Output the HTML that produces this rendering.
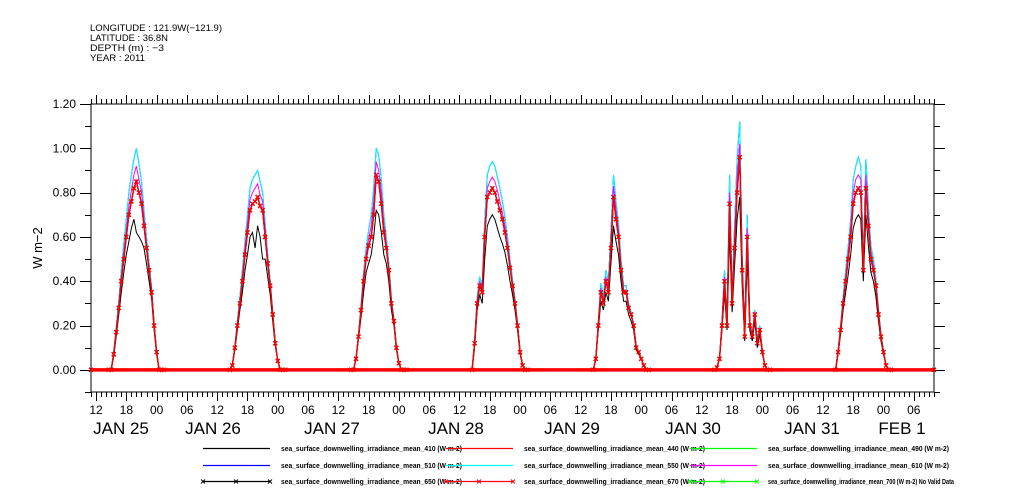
<!DOCTYPE html>
<html><head><meta charset="utf-8"><style>
html,body{margin:0;padding:0;background:#fff;}
svg{display:block;font-family:"Liberation Sans",sans-serif;}
</style></head><body>
<svg id="chart" width="1009" height="504" viewBox="0 0 1009 504" xmlns="http://www.w3.org/2000/svg">
<g font-size="9.5" fill="#000">
<text x="90" y="31" textLength="132" lengthAdjust="spacingAndGlyphs">LONGITUDE : 121.9W(−121.9)</text>
<text x="90" y="41" textLength="78" lengthAdjust="spacingAndGlyphs">LATITUDE : 36.8N</text>
<text x="90" y="51" textLength="74" lengthAdjust="spacingAndGlyphs">DEPTH (m) : −3</text>
<text x="90" y="61" textLength="55" lengthAdjust="spacingAndGlyphs">YEAR : 2011</text>
</g>
<g id="axes"></g>
<g id="plot"></g>
<g id="legend"></g>
</svg>
<script>
// ---- data (half-hourly, 14:30 to 01:30 UTC each day, Jan 25..Jan 31) ----
const dayLabels = ["JAN 25","JAN 26","JAN 27","JAN 28","JAN 29","JAN 30","JAN 31","FEB 1"];
const hourLabels = ["12","18","00","06"];
const yTicks = [0.00,0.20,0.40,0.60,0.80,1.00,1.20];
const red670 = [
[0,0,0.07,0.17,0.28,0.4,0.5,0.6,0.7,0.76,0.82,0.85,0.8,0.75,0.65,0.55,0.45,0.35,0.2,0.08,0,0,0],
[0,0.02,0.1,0.2,0.3,0.4,0.52,0.62,0.72,0.75,0.76,0.78,0.74,0.72,0.6,0.48,0.38,0.25,0.12,0.04,0,0,0],
[0,0,0.05,0.15,0.27,0.4,0.5,0.56,0.6,0.7,0.88,0.85,0.75,0.62,0.55,0.45,0.3,0.22,0.1,0.03,0,0,0],
[0,0.12,0.3,0.38,0.35,0.6,0.78,0.8,0.82,0.8,0.76,0.72,0.68,0.62,0.55,0.46,0.38,0.3,0.2,0.08,0.02,0,0],
[0,0.05,0.2,0.35,0.3,0.4,0.35,0.55,0.78,0.68,0.6,0.45,0.35,0.35,0.28,0.25,0.2,0.1,0.08,0.05,0.02,0,0],
[0,0.01,0.05,0.2,0.4,0.2,0.75,0.3,0.55,0.8,0.96,0.45,0.15,0.6,0.2,0.15,0.25,0.12,0.18,0.08,0.02,0,0],
[0,0.08,0.18,0.3,0.4,0.5,0.6,0.75,0.8,0.82,0.8,0.45,0.82,0.65,0.5,0.45,0.38,0.25,0.15,0.08,0.02,0,0]];
const cyan550 = [
[0,0,0.08,0.19,0.31,0.45,0.57,0.68,0.8,0.88,0.95,1.0,0.93,0.85,0.72,0.6,0.48,0.37,0.21,0.08,0,0,0],
[0,0.02,0.11,0.22,0.33,0.45,0.58,0.7,0.82,0.86,0.88,0.9,0.85,0.8,0.66,0.52,0.4,0.26,0.13,0.04,0,0,0],
[0,0,0.05,0.16,0.29,0.44,0.55,0.63,0.7,0.82,1.0,0.97,0.86,0.7,0.6,0.48,0.32,0.23,0.1,0.03,0,0,0],
[0,0.13,0.33,0.42,0.38,0.67,0.88,0.92,0.94,0.92,0.87,0.82,0.76,0.69,0.6,0.5,0.41,0.32,0.21,0.08,0.02,0,0],
[0,0.05,0.22,0.39,0.33,0.45,0.4,0.62,0.88,0.76,0.66,0.5,0.38,0.38,0.3,0.26,0.21,0.11,0.08,0.05,0.02,0,0],
[0,0.01,0.05,0.22,0.45,0.22,0.88,0.34,0.65,0.95,1.12,0.5,0.17,0.7,0.22,0.16,0.27,0.13,0.2,0.08,0.02,0,0],
[0,0.09,0.2,0.33,0.45,0.56,0.68,0.86,0.92,0.96,0.92,0.5,0.95,0.74,0.56,0.5,0.41,0.27,0.16,0.08,0.02,0,0]];
const black410 = [
[0,0,0.06,0.15,0.25,0.35,0.44,0.52,0.58,0.64,0.68,0.62,0.6,0.58,0.55,0.48,0.4,0.32,0.18,0.07,0,0,0],
[0,0.02,0.09,0.18,0.27,0.35,0.45,0.52,0.6,0.62,0.55,0.65,0.6,0.5,0.5,0.42,0.34,0.22,0.11,0.04,0,0,0],
[0,0,0.05,0.14,0.24,0.35,0.44,0.48,0.52,0.6,0.72,0.7,0.62,0.52,0.48,0.4,0.27,0.2,0.09,0.03,0,0,0],
[0,0.1,0.27,0.34,0.3,0.5,0.65,0.68,0.7,0.68,0.64,0.6,0.57,0.53,0.47,0.4,0.34,0.27,0.18,0.07,0.02,0,0],
[0,0.05,0.18,0.31,0.27,0.35,0.31,0.48,0.65,0.58,0.52,0.4,0.31,0.31,0.25,0.22,0.18,0.09,0.07,0.05,0.02,0,0],
[0,0.01,0.05,0.18,0.35,0.18,0.62,0.26,0.47,0.68,0.78,0.38,0.13,0.5,0.18,0.13,0.22,0.1,0.16,0.07,0.02,0,0],
[0,0.07,0.16,0.27,0.35,0.43,0.52,0.64,0.68,0.7,0.68,0.4,0.7,0.56,0.44,0.4,0.33,0.22,0.13,0.07,0.02,0,0]];
const magenta610 = [
[0,0,0.07,0.18,0.29,0.42,0.53,0.63,0.74,0.81,0.88,0.92,0.86,0.8,0.68,0.57,0.46,0.36,0.2,0.08,0,0,0],
[0,0.02,0.1,0.21,0.31,0.42,0.55,0.66,0.77,0.8,0.82,0.84,0.79,0.76,0.63,0.5,0.39,0.25,0.12,0.04,0,0,0],
[0,0,0.05,0.15,0.28,0.42,0.52,0.59,0.65,0.76,0.94,0.9,0.8,0.66,0.57,0.46,0.31,0.22,0.1,0.03,0,0,0],
[0,0.12,0.31,0.4,0.36,0.63,0.82,0.85,0.87,0.85,0.81,0.76,0.71,0.65,0.57,0.48,0.39,0.31,0.2,0.08,0.02,0,0],
[0,0.05,0.21,0.37,0.31,0.42,0.37,0.58,0.83,0.72,0.63,0.47,0.36,0.36,0.29,0.25,0.2,0.1,0.08,0.05,0.02,0,0],
[0,0.01,0.05,0.21,0.42,0.21,0.8,0.32,0.6,0.87,1.02,0.47,0.16,0.64,0.21,0.15,0.26,0.12,0.19,0.08,0.02,0,0],
[0,0.08,0.19,0.31,0.42,0.53,0.64,0.8,0.86,0.88,0.86,0.47,0.88,0.69,0.53,0.47,0.39,0.26,0.15,0.08,0.02,0,0]];

// ---- axis geometry ----
const X0=91, X1=934, Y0=104, Y1=392;
const H_MAX=167;            // hours from Jan 25 11:00 to Feb 1 10:00
const V_MIN=-0.1, V_MAX=1.2;
function xs(h){return X0+(h/H_MAX)*(X1-X0);}
function ys(v){return Y1-(v-V_MIN)/(V_MAX-V_MIN)*(Y1-Y0);}
const NS="http://www.w3.org/2000/svg";
function mk(tag,attrs,parent){const e=document.createElementNS(NS,tag);for(const k in attrs)e.setAttribute(k,attrs[k]);parent.appendChild(e);return e;}

const axes=document.getElementById('axes');
const frame=mk('rect',{x:X0,y:Y0,width:X1-X0,height:Y1-Y0,fill:'none',stroke:'#000','stroke-width':1},axes);


for(let h=0;h<=H_MAX;h++){
  const x=Math.round(xs(h))+0.5; const hr=(h+11)%24; const major=hr%6===0;
  const tb=mk('line',{x1:x,x2:x,y1:Y1,y2:Y1+(major?9:5),stroke:'#000'},axes);
  
  
  const tt=mk('line',{x1:x,x2:x,y1:Y0,y2:Y0-(major?9:5),stroke:'#000'},axes);
  
  
  if(major){
    const t=mk('text',{x:xs(h),y:414,'font-size':12,'text-anchor':'middle'},axes);
    t.textContent=hourLabels[(hr/6+2)%4];
    
    
  }
}
const dayPos=[121,213,332,456,572,693,812,902];
dayLabels.forEach((d,i)=>{
  const t=mk('text',{x:dayPos[i],y:434,'font-size':17,'text-anchor':'middle'},axes);
  t.textContent=d;
  
  
});
for(let k=-1;k<=12;k++){
  const v=k/10; const y=Math.round(ys(v))+0.5; const major=k>=0&&k%2===0;
  const l=mk('line',{x1:X0-(major?11:6),x2:X0,y1:y,y2:y,stroke:'#000'},axes);
  
  
  const r=mk('line',{x1:X1,x2:X1+(major?11:6),y1:y,y2:y,stroke:'#000'},axes);
  
  
}
yTicks.forEach(v=>{
  const t=mk('text',{x:76,y:ys(v)+4,'font-size':12,'text-anchor':'end'},axes);
  t.textContent=v.toFixed(2);
  
  
});
const yt=mk('text',{x:42,y:248,'font-size':13,'text-anchor':'middle',transform:'rotate(-90 42 248)'},axes);
yt.textContent='W m−2';



function pts(arr){
  const p=[[0,0]];
  arr.forEach((day,d)=>day.forEach((v,i)=>p.push([-11+24*d+14.5+0.5*i,v])));
  p.push([H_MAX,0]);
  return p;
}
const plot=document.getElementById('plot');
const series=[
 {name:'series-410',data:black410,color:'#000',mark:false},
 {name:'series-510',data:cyan550,color:'#0000ff',mark:false},
 {name:'series-550',data:cyan550,color:'#00ffff',mark:false},
 {name:'series-610',data:magenta610,color:'#ff00ff',mark:false},
 {name:'series-490',data:red670,color:'#00ff00',mark:false},
 {name:'series-650',data:red670,color:'#000',mark:true},
 {name:'series-440',data:red670,color:'#ff0000',mark:false},
 {name:'series-670',data:red670,color:'#ff0000',mark:true}
];
series.forEach(s=>{
  const g=mk('g',{},plot);
  
  
  const p=pts(s.data);
  const path=mk('polyline',{points:p.map(q=>xs(q[0]).toFixed(1)+','+ys(q[1]).toFixed(1)).join(' '),fill:'none',stroke:s.color,'stroke-width':s.mark?1.3:1},g);
  
  
  if(s.mark){
    p.forEach(q=>{
      const x=xs(q[0]),y=ys(q[1]);
      const m=mk('path',{d:`M${x-2} ${y-2}L${x+2} ${y+2}M${x-2} ${y+2}L${x+2} ${y-2}`,stroke:s.color,'stroke-width':1.2},g);
      
      
    });
  }
});
const zb=mk('line',{x1:X0+1,x2:X1-1,y1:ys(0),y2:ys(0),stroke:'#ff0000','stroke-width':3.5},plot);


plot.insertBefore(zb,plot.lastChild);

const legend=document.getElementById('legend');


const legItems=[
 ['410','#000',false,0,0],['440','#ff0000',false,1,0],['490','#00ff00',false,2,0],
 ['510','#0000ff',false,0,1],['550','#00ffff',false,1,1],['610','#ff00ff',false,2,1],
 ['650','#000',true,0,2],['670','#ff0000',true,1,2],['700','#00ff00',true,2,2]];
const colX=[203,446,690], rowY=[448,465,481];
legItems.forEach(it=>{
  const g=mk('g',{},legend);
  
  
  const x=colX[it[3]], y=rowY[it[4]]+0.5;
  mk('line',{x1:x,x2:x+67,y1:y,y2:y,stroke:it[1],'stroke-width':1.2},g);
  if(it[2]){[x,x+33,x+67].forEach(mx=>mk('path',{d:`M${mx-2} ${y-2}L${mx+2} ${y+2}M${mx-2} ${y+2}L${mx+2} ${y-2}`,stroke:it[1]},g));}
  const t=mk('text',{x:x+78,y:y+2.5,'font-size':7,'font-weight':'bold',textLength:it[0]==='700'?186:181,lengthAdjust:'spacingAndGlyphs'},g);
  t.textContent='sea_surface_downwelling_irradiance_mean_'+it[0]+(it[0]==='700'?' (W m-2) No Valid Data':' (W m-2)');
});
</script>
</body></html>
